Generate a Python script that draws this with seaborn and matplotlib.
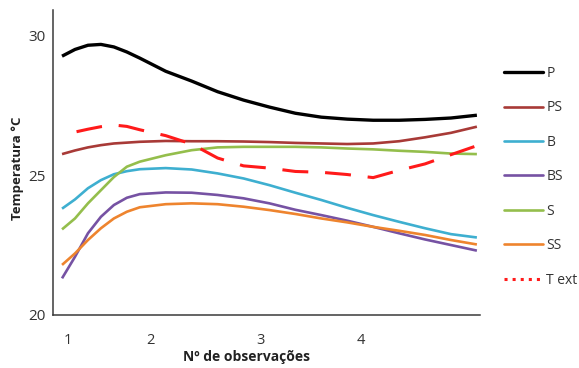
import numpy as np
import pandas as pd
import matplotlib
matplotlib.use("Agg")
import matplotlib.pyplot as plt
from matplotlib.lines import Line2D
import seaborn as sns

# ---- data ----
x_obs = [1.0, 1.125, 1.25, 1.375, 1.5, 1.625, 1.75, 2.0, 2.25, 2.5, 2.75,
         3.0, 3.25, 3.5, 3.75, 4.0, 4.25, 4.5, 4.75, 5.0]
P  = [29.25, 29.49, 29.64, 29.67, 29.58, 29.40, 29.18, 28.71, 28.36, 27.98, 27.68,
      27.43, 27.21, 27.07, 27.00, 26.96, 26.96, 26.99, 27.04, 27.14]
PS = [25.75, 25.88, 25.99, 26.07, 26.13, 26.16, 26.19, 26.22, 26.21, 26.21, 26.20,
      26.18, 26.15, 26.13, 26.11, 26.13, 26.21, 26.35, 26.51, 26.73]
B  = [23.80, 24.13, 24.53, 24.82, 25.03, 25.14, 25.21, 25.25, 25.20, 25.06, 24.88,
      24.64, 24.37, 24.11, 23.83, 23.57, 23.33, 23.10, 22.89, 22.77]
BS = [21.31, 22.08, 22.92, 23.51, 23.93, 24.19, 24.32, 24.38, 24.37, 24.29, 24.17,
      23.99, 23.76, 23.57, 23.37, 23.15, 22.92, 22.70, 22.50, 22.30]
S  = [23.06, 23.45, 23.99, 24.46, 24.93, 25.30, 25.48, 25.71, 25.89, 25.99, 26.01,
      26.01, 26.01, 25.99, 25.95, 25.92, 25.87, 25.83, 25.77, 25.75]
SS = [21.79, 22.20, 22.68, 23.10, 23.45, 23.69, 23.85, 23.96, 23.99, 23.96, 23.87,
      23.75, 23.61, 23.45, 23.31, 23.15, 23.01, 22.86, 22.68, 22.52]
x_text = [1.14, 1.25, 1.375, 1.5, 1.625, 1.75, 2.0, 2.25, 2.5, 2.75,
          3.0, 3.25, 3.5, 3.75, 4.0, 4.25, 4.5, 4.75, 5.0]
Text = [26.55, 26.64, 26.73, 26.79, 26.74, 26.62, 26.41, 26.11, 25.61, 25.33,
        25.25, 25.13, 25.10, 25.02, 24.91, 25.17, 25.40, 25.73, 26.05]

series_names = ["P", "PS", "B", "BS", "S", "SS", "Text"]
legend_labels = ["P", "PS", "B", "BS", "S", "SS", "T ext"]
colors = {"P": "#000000", "PS": "#A83A37", "B": "#3EAFD0", "BS": "#7652A3",
          "S": "#94BE4C", "SS": "#EE842E", "Text": "#FF1A1A"}
widths = {"P": 2.4, "PS": 1.9, "B": 1.9, "BS": 1.9, "S": 1.9, "SS": 1.9, "Text": 2.2}

tick_pos = [1.06, 1.85, 2.91, 3.88]
tick_labels = ["1", "2", "3", "4"]
y_ticks = [20, 25, 30]

rows = []
for name, vals in zip(series_names[:-1], [P, PS, B, BS, S, SS]):
    for xv, yv in zip(x_obs, vals):
        rows.append({"obs": xv, "temp": yv, "serie": name})
for xv, yv in zip(x_text, Text):
    rows.append({"obs": xv, "temp": yv, "serie": "Text"})
df = pd.DataFrame(rows)

sns.set_style("white")
plt.rcParams["font.family"] = ["Open Sans", "DejaVu Sans"]

fig = plt.figure(figsize=(5.79, 3.68), dpi=100)
ax = fig.add_axes([53/579, 1 - 315/368, 427/579, 305/368])

for name in series_names:
    sub = df[df["serie"] == name]
    sns.lineplot(data=sub, x="obs", y="temp", ax=ax, color=colors[name],
                 linewidth=widths[name], sort=False, legend=False)
    ln = ax.lines[-1]
    ln.set_solid_joinstyle("round")
    ln.set_solid_capstyle("butt")
    if name == "Text":
        ln.set_linestyle((0, (8.5, 5.5)))

ax.set_xlim(0.913, 5.03)
ax.set_ylim(20, 30.9)
ax.set_xticks(tick_pos)
ax.set_xticklabels(tick_labels)
ax.set_yticks(y_ticks)
ax.tick_params(axis="x", length=0, pad=13, labelsize=10.5, colors="#333333")
ax.tick_params(axis="y", length=0, pad=5, labelsize=11, colors="#333333")
for side in ["top", "right"]:
    ax.spines[side].set_visible(False)
for side in ["left", "bottom"]:
    ax.spines[side].set_color("#3a3a3a")
    ax.spines[side].set_linewidth(1.1)

ax.set_xlabel("Nº de observações", fontsize=10, fontweight="bold", color="#222222")
ax.set_ylabel("Temperatura °C", fontsize=9.5, fontweight="bold", color="#222222")
ax.xaxis.set_label_coords(0.452, -0.115)
ax.yaxis.set_label_coords(-0.068, 0.48)

handles = []
for name in series_names:
    ls = ":" if name == "Text" else "-"
    handles.append(Line2D([0], [0], color=colors[name], linewidth=widths[name], linestyle=ls))
leg = ax.legend(handles, legend_labels, loc="upper left", bbox_to_anchor=(504/579, 1 - 66/368),
                bbox_transform=fig.transFigure, frameon=False, fontsize=10,
                handlelength=2.8, handletextpad=0.25, labelspacing=1.4, borderaxespad=0,
                borderpad=0)
for t in leg.get_texts():
    t.set_color("#333333")

fig.savefig("out.png", dpi=100)
